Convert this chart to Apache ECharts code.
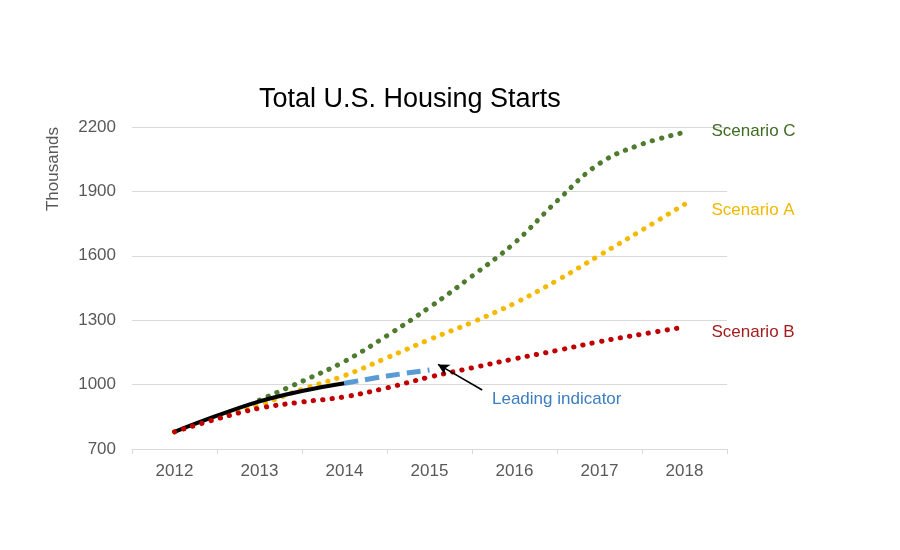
<!DOCTYPE html>
<html>
<head>
<meta charset="utf-8">
<script src="https://cdn.jsdelivr.net/npm/echarts@6/dist/echarts.min.js"></script>
<style>html,body{margin:0;padding:0;background:#fff}#c{width:900px;height:550px}</style>
</head>
<body>
<div id="c"></div>
<script>
const categories = ['2012', '2013', '2014', '2015', '2016', '2017', '2018'];
const yTicks = { min: 700, max: 2200, interval: 300 };

const actualX = [2012, 2012.5, 2013, 2013.5, 2014];
const actualValues = [780, 855, 922, 970, 1006];

const leadX = [2014, 2014.5, 2015];
const leadValues = [1006, 1040, 1068];

const scenarioX = [2012, 2012.5, 2013, 2013.5, 2014, 2014.5, 2015, 2015.5, 2016, 2016.5, 2017, 2017.5, 2018];
const scenarioA = [780, 848, 906, 978, 1042, 1125, 1210, 1290, 1379, 1485, 1602, 1720, 1840];
const scenarioB = [780, 840, 890, 919, 943, 985, 1035, 1078, 1120, 1159, 1200, 1235, 1268];
const scenarioC = [null, null, 928, 1015, 1108, 1228, 1360, 1505, 1660, 1855, 2030, 2120, 2175];

const arrowFrom = [2015.62, 975];
const arrowTo = [2015.1, 1094];

const FONT = '"Liberation Sans", Arial, sans-serif';
const pair = (xs, ys) => xs.map((x, i) => [x, ys[i]]);

const dotted = (color) => ({ color: color, width: 5, type: [0.3, 9.2], cap: 'round' });

const chart = echarts.init(document.getElementById('c'), null, { renderer: 'canvas' });
chart.setOption({
  backgroundColor: '#fff',
  animation: false,
  textStyle: { fontFamily: FONT },
  title: {
    text: 'Total U.S. Housing Starts',
    left: 254, top: 81,
    textStyle: { fontSize: 27, fontWeight: 'normal', color: '#000', fontFamily: FONT }
  },
  grid: { left: 132, right: 173, top: 127, bottom: 101, containLabel: false },
  xAxis: [
    {
      type: 'category',
      data: categories,
      boundaryGap: true,
      axisLine: { show: true, lineStyle: { color: '#d9d9d9', width: 1 } },
      axisTick: { show: true, length: 5, lineStyle: { color: '#d9d9d9' } },
      axisLabel: { fontSize: 17, color: '#595959', margin: 14, fontFamily: FONT },
      splitLine: { show: false }
    },
    {
      type: 'value',
      min: 2011.5, max: 2018.5,
      show: false,
      position: 'bottom',
      splitLine: { show: false }
    }
  ],
  yAxis: {
    type: 'value',
    min: yTicks.min, max: yTicks.max, interval: yTicks.interval,
    axisLine: { show: false },
    axisTick: { show: false },
    axisLabel: { fontSize: 17, color: '#595959', margin: 16, fontFamily: FONT, formatter: (v) => String(v) },
    splitLine: { lineStyle: { color: '#d9d9d9', width: 1 } }
  },
  graphic: [
    {
      type: 'text', x: 53, y: 169, rotation: Math.PI / 2,
      style: { text: 'Thousands', fontSize: 17, fill: '#595959', fontFamily: FONT, textAlign: 'center', textVerticalAlign: 'middle' }
    },
    {
      type: 'text', left: 492, top: 391,
      style: { text: 'Leading indicator', fontSize: 17, fill: '#3B7DC0', fontFamily: FONT }
    }
  ],
  series: [
    {
      name: 'Scenario A', type: 'line', xAxisIndex: 1, smooth: 0.4, showSymbol: false, z: 2,
      lineStyle: dotted('#F5BA00'),
      data: pair(scenarioX, scenarioA),
      endLabel: { show: true, formatter: 'Scenario A', color: '#F2B800', fontSize: 17, distance: 27, fontFamily: FONT, offset: [0, 6] }
    },
    {
      name: 'Scenario C', type: 'line', xAxisIndex: 1, smooth: 0.4, showSymbol: false, z: 2,
      lineStyle: dotted('#4E7B2E'),
      data: pair(scenarioX, scenarioC),
      endLabel: { show: true, formatter: 'Scenario C', color: '#3F6B22', fontSize: 17, distance: 27, fontFamily: FONT, offset: [0, -1] }
    },
    {
      name: 'Actual', type: 'line', xAxisIndex: 1, smooth: 0.4, showSymbol: false, z: 3,
      lineStyle: { color: '#000', width: 4 },
      data: pair(actualX, actualValues)
    },
    {
      name: 'Leading indicator', type: 'line', xAxisIndex: 1, smooth: 0.4, showSymbol: false, z: 3,
      lineStyle: { color: '#5B9BD5', width: 5, type: [14, 7], cap: 'butt' },
      data: pair(leadX, leadValues),
      markLine: {
        silent: true, symbol: ['none', 'arrow'], symbolSize: [9, 11],
        label: { show: false },
        lineStyle: { color: '#000', width: 1.6, type: 'solid' },
        data: [[{ coord: arrowFrom }, { coord: arrowTo }]]
      }
    },
    {
      name: 'Scenario B', type: 'line', xAxisIndex: 1, smooth: 0.4, showSymbol: false, z: 4,
      lineStyle: dotted('#C00000'),
      data: pair(scenarioX, scenarioB),
      endLabel: { show: true, formatter: 'Scenario B', color: '#A51C1C', fontSize: 17, distance: 27, fontFamily: FONT, offset: [0, 5] }
    }
  ]
});
</script>
</body>
</html>
